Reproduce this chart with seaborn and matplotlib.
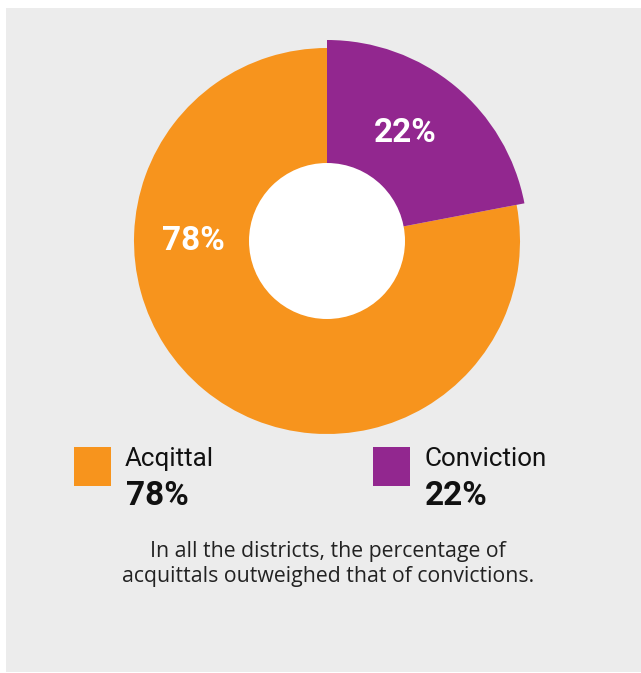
import matplotlib
matplotlib.use("Agg")
import matplotlib.pyplot as plt
from matplotlib.patches import Rectangle, Circle
import numpy as np
import seaborn as sns

# Outcome shares across the districts
categories = ["Acqittal", "Conviction"]
shares = [78, 22]
share_labels = ["78%", "22%"]
caption_lines = ["In all the districts, the percentage of",
                 "acquittals outweighed that of convictions."]

sns.set_style("white")
palette = sns.color_palette(["#F7941D", "#92278F"])

W, H = 641, 673
fig = plt.figure(figsize=(W / 100, H / 100), dpi=100)
fig.patch.set_facecolor("white")


def fx(px):
    return px / W


def fy(py):
    return 1 - py / H


# grey panel behind everything
fig.patches.append(Rectangle((fx(6), fy(672)), fx(641) - fx(6), fy(8) - fy(672),
                             transform=fig.transFigure, facecolor="#ECECEC",
                             edgecolor="none", zorder=-10))

# donut axes: centre at (327, 241) px, outer radius 193 px
cx, cy, r_px, half = 327, 241, 193, 230
ax = fig.add_axes([fx(cx - half), fy(cy + half), 2 * half / W, 2 * half / H])
ax.set_facecolor("none")

frac_conv = shares[1] / sum(shares)
wedges, _ = ax.pie(shares, colors=palette, startangle=90 - 360 * frac_conv,
                   counterclock=False, radius=1.0,
                   wedgeprops=dict(linewidth=0, edgecolor="none"))
# the conviction slice stands a little proud of the ring
wedges[1].set_radius(201 / r_px)

lim = half / r_px
ax.set_xlim(-lim, lim)
ax.set_ylim(-lim, lim)
ax.set_aspect("equal")
ax.axis("off")

inner = 78 / r_px
ax.add_patch(Circle((0, 0), inner, facecolor="white", edgecolor="none", zorder=5))

# in-ring labels, positioned by angle clockwise from the top
label_angles = [270, 36]
label_r = 0.69
for lab, ang in zip(share_labels, label_angles):
    a = np.deg2rad(ang)
    ax.text(label_r * np.sin(a), label_r * np.cos(a), lab, ha="center", va="center",
            color="white", fontsize=24, fontweight="bold", family="Roboto", zorder=6)

# legend blocks
legend_x = [74, 373]
for x0, col, name, lab in zip(legend_x, palette, categories, share_labels):
    fig.patches.append(Rectangle((fx(x0), fy(486)), 37 / W, 39 / H,
                                 transform=fig.transFigure, facecolor=col,
                                 edgecolor="none"))
    fig.text(fx(x0 + 51), fy(466), name, ha="left", va="baseline",
             fontsize=18.7, family="Roboto", color="#111111")
    fig.text(fx(x0 + 52), fy(505), lab, ha="left", va="baseline",
             fontsize=24, fontweight="bold", family="Roboto", color="#111111")

for line, base in zip(caption_lines, [557, 582]):
    fig.text(fx(328), fy(base), line, ha="center", va="baseline", fontsize=15.3,
             family="Open Sans", color="#222222")

fig.savefig("out.png", dpi=100, facecolor="white")
